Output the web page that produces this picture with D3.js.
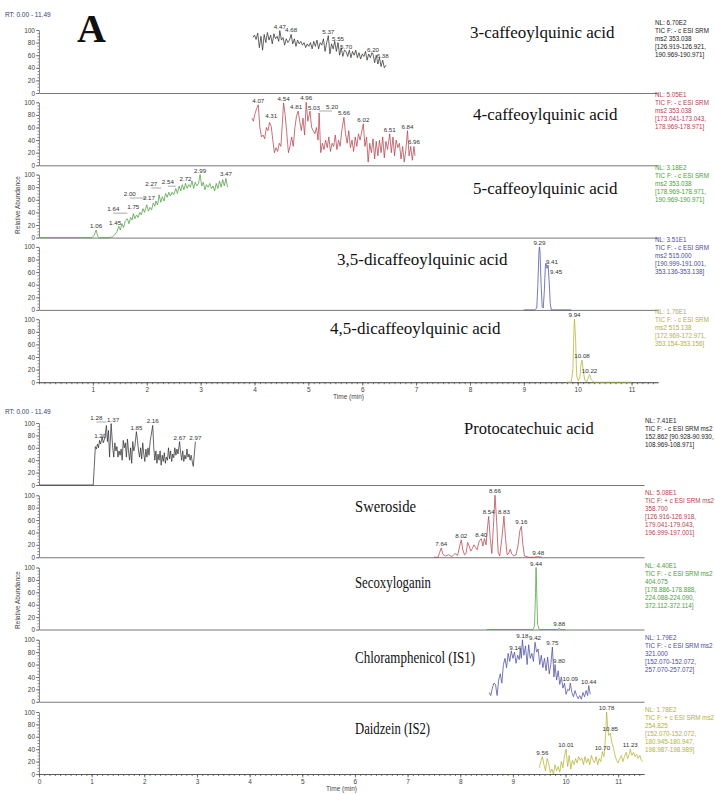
<!DOCTYPE html>
<html>
<head>
<meta charset="utf-8">
<script src="https://cdn.jsdelivr.net/npm/d3@7"></script>
<style>
  body { margin: 0; background: #fff; }
  svg { display: block; }
  text { font-family: "Liberation Sans", Arial, sans-serif; }
  text.name, text.panel-tag { font-family: "Liberation Serif", "Times New Roman", serif; fill: #111; }
</style>
</head>
<body>
<svg id="chart" width="715" height="794"></svg>
<script>
// ---- data: [time (min), relative abundance (%)] ----
var cqa3 = [[3.97,88],[4.00,92],[4.03,85],[4.06,95],[4.09,72],[4.12,90],[4.15,68],[4.18,93],[4.21,80],[4.24,96],[4.27,84],[4.30,92],[4.33,78],[4.36,94],[4.39,86],[4.42,90],[4.45,82],[4.47,99],[4.50,84],[4.53,88],[4.56,76],[4.59,86],[4.62,80],[4.65,84],[4.68,93],[4.71,78],[4.74,86],[4.77,74],[4.80,84],[4.83,78],[4.86,82],[4.89,76],[4.92,80],[4.95,72],[4.98,78],[5.01,74],[5.04,80],[5.07,70],[5.10,82],[5.13,74],[5.16,84],[5.19,70],[5.22,80],[5.25,76],[5.28,86],[5.31,66],[5.34,80],[5.37,91],[5.40,62],[5.43,78],[5.46,70],[5.49,82],[5.52,66],[5.55,80],[5.58,60],[5.61,72],[5.64,58],[5.67,68],[5.70,66],[5.73,58],[5.76,68],[5.79,56],[5.82,66],[5.85,60],[5.88,68],[5.91,56],[5.94,64],[5.97,54],[6.00,62],[6.03,58],[6.06,66],[6.09,52],[6.12,62],[6.15,56],[6.18,64],[6.20,62],[6.23,48],[6.26,60],[6.29,46],[6.32,56],[6.35,42],[6.38,52],[6.41,40],[6.44,44]];
var cqa4 = [[3.95,75],[3.98,70],[4.01,82],[4.04,90],[4.07,96],[4.10,60],[4.13,45],[4.16,48],[4.19,42],[4.22,60],[4.25,55],[4.28,68],[4.31,62],[4.34,40],[4.37,20],[4.40,28],[4.43,22],[4.46,35],[4.49,30],[4.52,70],[4.54,99],[4.57,80],[4.60,50],[4.63,20],[4.66,30],[4.69,45],[4.72,30],[4.75,60],[4.78,78],[4.81,86],[4.84,70],[4.87,55],[4.90,75],[4.93,48],[4.96,100],[4.99,70],[5.03,86],[5.06,60],[5.09,55],[5.12,50],[5.15,60],[5.18,40],[5.20,83],[5.23,20],[5.26,35],[5.29,25],[5.32,40],[5.35,28],[5.38,45],[5.41,22],[5.44,35],[5.47,30],[5.50,48],[5.53,25],[5.56,40],[5.59,30],[5.62,55],[5.66,76],[5.69,50],[5.72,35],[5.75,55],[5.78,28],[5.81,40],[5.84,22],[5.87,45],[5.90,30],[5.93,50],[5.96,40],[6.02,66],[6.05,30],[6.08,45],[6.11,5],[6.14,35],[6.17,20],[6.20,42],[6.23,10],[6.26,38],[6.29,15],[6.32,40],[6.35,20],[6.38,45],[6.41,12],[6.44,38],[6.47,25],[6.51,50],[6.54,20],[6.57,45],[6.60,15],[6.63,40],[6.66,28],[6.69,35],[6.72,10],[6.75,30],[6.78,5],[6.81,25],[6.84,55],[6.87,15],[6.90,30],[6.93,8],[6.96,30],[6.98,15]];
var cqa5 = [[0,0],[0.98,0],[1.02,3],[1.06,12],[1.09,2],[1.12,0],[1.30,0],[1.36,1],[1.40,4],[1.45,10],[1.48,18],[1.51,12],[1.54,22],[1.57,16],[1.60,26],[1.64,30],[1.67,22],[1.70,32],[1.73,28],[1.75,38],[1.78,30],[1.81,36],[1.84,32],[1.87,40],[1.90,36],[1.93,46],[1.96,40],[2.00,52],[2.03,42],[2.06,48],[2.09,44],[2.12,55],[2.15,50],[2.17,58],[2.20,52],[2.23,68],[2.26,56],[2.29,65],[2.32,58],[2.35,70],[2.38,64],[2.41,72],[2.44,66],[2.47,72],[2.50,68],[2.54,78],[2.57,70],[2.60,82],[2.63,74],[2.66,84],[2.69,76],[2.72,86],[2.75,78],[2.78,84],[2.81,80],[2.84,90],[2.87,78],[2.90,88],[2.93,82],[2.96,86],[2.99,100],[3.02,82],[3.05,88],[3.08,76],[3.11,84],[3.14,80],[3.17,86],[3.20,78],[3.23,82],[3.26,74],[3.29,86],[3.32,78],[3.35,90],[3.38,80],[3.41,92],[3.44,82],[3.47,94],[3.50,80]];
var dicqa35 = [[9.00,0],[9.20,0],[9.24,3],[9.26,40],[9.28,92],[9.29,100],[9.30,92],[9.32,40],[9.34,5],[9.36,3],[9.38,30],[9.40,70],[9.41,74],[9.43,66],[9.45,71],[9.47,45],[9.49,10],[9.51,0],[9.88,0]];
var dicqa45 = [[9.80,0],[9.88,0],[9.91,20],[9.93,85],[9.94,100],[9.96,70],[9.98,10],[10.01,2],[10.04,8],[10.06,28],[10.08,35],[10.10,20],[10.13,3],[10.17,1],[10.20,8],[10.22,12],[10.25,4],[10.30,0],[11.00,0]];

var proto = [[0,0],[1.03,0],[1.05,30],[1.07,62],[1.09,58],[1.11,66],[1.13,60],[1.15,72],[1.17,66],[1.20,78],[1.22,68],[1.25,76],[1.28,96],[1.30,70],[1.32,88],[1.34,45],[1.37,99],[1.40,60],[1.42,45],[1.44,68],[1.46,55],[1.48,62],[1.50,45],[1.52,55],[1.54,48],[1.56,58],[1.58,40],[1.60,72],[1.62,60],[1.64,68],[1.66,45],[1.68,74],[1.70,55],[1.72,40],[1.74,60],[1.76,35],[1.78,70],[1.80,55],[1.82,62],[1.85,86],[1.87,72],[1.89,55],[1.91,45],[1.93,60],[1.95,42],[1.97,68],[1.99,50],[2.01,38],[2.03,58],[2.05,45],[2.07,60],[2.09,48],[2.11,70],[2.13,80],[2.16,96],[2.18,60],[2.20,40],[2.22,55],[2.24,35],[2.26,50],[2.28,40],[2.30,55],[2.32,32],[2.34,48],[2.36,38],[2.38,52],[2.40,35],[2.42,45],[2.44,40],[2.46,60],[2.48,42],[2.50,55],[2.52,38],[2.54,50],[2.56,44],[2.58,60],[2.60,48],[2.62,58],[2.64,50],[2.67,70],[2.69,52],[2.71,40],[2.73,55],[2.75,38],[2.77,48],[2.79,42],[2.81,58],[2.83,45],[2.85,50],[2.87,40],[2.89,48],[2.91,38],[2.93,30],[2.95,50],[2.97,70]];
var swero = [[7.50,0],[7.58,0],[7.61,8],[7.64,15],[7.67,5],[7.72,2],[7.78,4],[7.84,1],[7.90,6],[7.95,3],[7.99,18],[8.02,28],[8.05,12],[8.08,4],[8.11,6],[8.14,24],[8.17,18],[8.20,10],[8.23,14],[8.26,20],[8.29,16],[8.32,12],[8.36,26],[8.40,30],[8.43,18],[8.46,30],[8.49,20],[8.52,50],[8.54,66],[8.57,30],[8.60,6],[8.63,50],[8.66,100],[8.69,60],[8.72,8],[8.75,2],[8.79,30],[8.83,66],[8.86,30],[8.89,4],[8.92,6],[8.95,13],[8.98,5],[9.02,2],[9.06,4],[9.10,20],[9.13,42],[9.16,50],[9.19,20],[9.22,2],[9.30,0],[9.40,0],[9.48,1],[9.55,0]];
var seco = [[8.50,0],[9.38,0],[9.41,5],[9.43,60],[9.44,100],[9.45,70],[9.47,8],[9.50,0],[9.85,0],[9.88,2],[9.91,0],[10.00,0]];
var chloram = [[8.55,15],[8.58,10],[8.61,22],[8.64,30],[8.67,28],[8.70,10],[8.73,35],[8.76,45],[8.79,30],[8.82,60],[8.85,70],[8.88,55],[8.91,78],[8.94,65],[8.97,82],[9.00,70],[9.03,80],[9.06,62],[9.09,75],[9.12,68],[9.14,85],[9.16,70],[9.18,100],[9.21,75],[9.24,90],[9.27,60],[9.30,92],[9.33,70],[9.36,78],[9.39,65],[9.42,96],[9.45,80],[9.48,85],[9.51,60],[9.54,75],[9.57,55],[9.60,70],[9.63,50],[9.66,72],[9.69,45],[9.72,60],[9.75,88],[9.78,40],[9.80,60],[9.83,35],[9.86,50],[9.89,28],[9.92,40],[9.95,22],[9.98,30],[10.01,12],[10.04,20],[10.07,18],[10.09,30],[10.12,15],[10.15,8],[10.18,18],[10.21,10],[10.24,5],[10.27,10],[10.30,4],[10.33,15],[10.36,8],[10.39,18],[10.42,10],[10.44,26],[10.47,12]];
var daidz = [[9.50,10],[9.53,20],[9.56,28],[9.59,15],[9.62,5],[9.65,25],[9.68,18],[9.71,2],[9.74,8],[9.77,0],[9.80,15],[9.83,5],[9.86,12],[9.89,3],[9.92,20],[9.95,10],[9.98,30],[10.01,40],[10.04,12],[10.07,30],[10.10,8],[10.13,22],[10.16,15],[10.19,25],[10.22,18],[10.25,28],[10.28,22],[10.31,26],[10.34,15],[10.37,28],[10.40,18],[10.43,25],[10.46,15],[10.49,30],[10.52,22],[10.55,18],[10.58,28],[10.61,15],[10.64,25],[10.67,20],[10.70,36],[10.73,28],[10.76,60],[10.78,100],[10.80,75],[10.82,62],[10.85,66],[10.88,50],[10.91,42],[10.94,30],[10.97,22],[11.00,18],[11.03,25],[11.06,30],[11.09,20],[11.12,28],[11.15,35],[11.18,25],[11.21,32],[11.23,40],[11.26,30],[11.29,35],[11.32,28],[11.35,32],[11.38,25],[11.41,30],[11.44,22],[11.47,20]];

// labelled peaks: [retention time, apex abundance]
var cqa3Peaks = [[4.47,99],[4.68,93],[5.37,91],[5.55,80],[5.70,66],[6.20,62],[6.38,52]];
var cqa4Peaks = [[4.07,96],[4.31,68],[4.54,99],[4.81,86],[4.96,100],[5.03,86],[5.20,83],[5.66,76],[6.02,66],[6.51,50],[6.84,55],[6.96,30]];
var cqa5Peaks = [[1.06,12],[1.45,20],[1.64,34],[1.75,42],[2.00,58],[2.17,60],[2.27,74],[2.54,80],[2.72,86],[2.99,100],[3.47,94]];
var dicqa35Peaks = [[9.29,100],[9.41,74],[9.45,64]];
var dicqa45Peaks = [[9.94,100],[10.08,35],[10.22,12]];
var protoPeaks = [[1.20,78],[1.28,100],[1.37,99],[1.85,86],[2.16,96],[2.67,70],[2.97,70]];
var sweroPeaks = [[7.64,15],[8.02,28],[8.40,30],[8.54,66],[8.66,100],[8.83,66],[9.16,50],[9.48,1]];
var secoPeaks = [[9.44,100],[9.88,2]];
var chloramPeaks = [[9.14,85],[9.18,100],[9.42,96],[9.75,88],[9.80,60],[10.09,30],[10.44,26]];
var daidzPeaks = [[9.56,28],[10.01,40],[10.70,36],[10.78,100],[10.85,66],[11.23,40]];

var topNames = ["3-caffeoylquinic acid", "4-caffeoylquinic acid", "5-caffeoylquinic acid", "3,5-dicaffeoylquinic acid", "4,5-dicaffeoylquinic acid"];
var bottomNames = ["Protocatechuic acid", "Sweroside", "Secoxyloganin", "Chloramphenicol (IS1)", "Daidzein (IS2)"];

var topInfo = [
  ["NL: 6.70E2", "TIC F: - c ESI SRM", "ms2 353.038", "[126.919-126.921,", "190.969-190.971]"],
  ["NL: 5.05E1", "TIC F: - c ESI SRM", "ms2 353.038", "[173.041-173.043,", "178.969-178.971]"],
  ["NL: 3.18E2", "TIC F: - c ESI SRM", "ms2 353.038", "[178.969-178.971,", "190.969-190.971]"],
  ["NL: 3.51E1", "TIC F: - c ESI SRM", "ms2 515.000", "[190.999-191.001,", "353.136-353.138]"],
  ["NL: 1.76E1", "TIC F: - c ESI SRM", "ms2 515.138", "[172.969-172.971,", "353.154-353.156]"]
];
var bottomInfo = [
  ["NL: 7.41E1", "TIC F: - c ESI SRM ms2", "152.862 [90.928-90.930,", "108.969-108.971]"],
  ["NL: 5.08E1", "TIC F: + c ESI SRM ms2", "358.700", "[126.916-126.918,", "179.041-179.043,", "196.999-197.001]"],
  ["NL: 4.40E1", "TIC F: - c ESI SRM ms2", "404.075", "[178.886-178.888,", "224.088-224.090,", "372.112-372.114]"],
  ["NL: 1.79E2", "TIC F: - c ESI SRM ms2", "321.000", "[152.070-152.072,", "257.070-257.072]"],
  ["NL: 1.78E2", "TIC F: + c ESI SRM ms2", "254.825", "[152.070-152.072,", "180.945-180.947,", "198.987-198.989]"]
];

var colors = ["#333333", "#b4434f", "#4d9e40", "#4c4ca2", "#b3b332"];
var rtRange = [0, 11.49];
var yTicks = [0, 20, 40, 60, 80, 100];

// ---- layout ----
// label nudges, keyed "panel:label" -> [dx, dy, leader line]
var topShift = {
  "1:4.81": [-2, 0], "1:5.03": [4, 1], "1:5.20": [13, -2, 1], "1:4.31": [0, -2],
  "2:1.64": [-14, -3, 1], "2:2.00": [-17, -3, 1], "2:2.17": [-7, 2], "2:2.27": [-10, -3, 1],
  "2:2.54": [-8, -1, 1], "2:1.45": [-2, 2],
  "3:9.41": [6, 3], "3:9.45": [8, 6]
};
var bottomShift = {
  "0:1.28": [-10, -1, 1], "0:1.20": [-2, 3], "0:1.37": [2, 0],
  "3:9.14": [-5, 3], "3:9.80": [4, 0]
};

// name placement: [left x, level (%), font size, squeezed width or 0]
var topGroup = {
  left: 39, right: 658, base0: 93, step: 72.3, h: 63, infoX: 655, infoDy: -68, xLabel0: false,
  rtY: 17, relY: 205,
  traces: [cqa3, cqa4, cqa5, dicqa35, dicqa45],
  peaks: [cqa3Peaks, cqa4Peaks, cqa5Peaks, dicqa35Peaks, dicqa45Peaks],
  shift: topShift,
  names: topNames, info: topInfo,
  namePos: [[470, 95, 17, 0], [473, 80, 17, 0], [473, 78, 17, 0], [337, 80, 17, 0], [330, 85, 17, 0]]
};
var bottomGroup = {
  left: 39, right: 644, base0: 485, step: 72.25, h: 62, infoX: 645, infoDy: -62, xLabel0: true,
  rtY: 414, relY: 600,
  traces: [proto, swero, seco, chloram, daidz],
  peaks: [protoPeaks, sweroPeaks, secoPeaks, chloramPeaks, daidzPeaks],
  shift: bottomShift,
  names: bottomNames, info: bottomInfo,
  namePos: [[464, 90, 16.5, 0], [355, 80, 16, 61], [355, 75, 16, 76], [355, 70, 16, 120], [355, 72, 16, 75]]
};

var svg = d3.select("#chart");
var fmt = d3.format(".2f");

function drawGroup(grp) {
  var g = svg.append("g");
  var x = d3.scaleLinear().domain(rtRange).range([grp.left, grp.right]);

  g.append("text").attr("x", 5).attr("y", grp.rtY)
    .attr("font-size", 6.5).attr("fill", "#2f3f7a").text("RT: 0.00 - 11.49");

  grp.traces.forEach(function(data, i) {
    var base = grp.base0 + i * grp.step;
    var y = d3.scaleLinear().domain([0, 100]).range([base, base - grp.h]);
    var last = i === grp.traces.length - 1;

    // y axis: minor then major ticks
    g.append("g").attr("transform", "translate(" + grp.left + ",0)")
      .call(d3.axisLeft(y).tickValues(d3.range(0, 101, 5)).tickSize(1.5).tickSizeOuter(0).tickFormat(""))
      .call(function(a) { a.selectAll("line,path").attr("stroke", "#555").attr("stroke-width", 0.7); });
    g.append("g").attr("transform", "translate(" + grp.left + ",0)")
      .call(d3.axisLeft(y).tickValues(yTicks).tickSize(3).tickPadding(1))
      .call(function(a) {
        a.select(".domain").remove();
        a.selectAll("line").attr("stroke", "#555").attr("stroke-width", 0.7);
        a.selectAll("text").attr("font-size", 6.5).attr("fill", "#444");
      });

    // x axis (baseline); ticks only on the last panel
    var xa = g.append("g").attr("transform", "translate(0," + base + ")");
    if (last) {
      xa.call(d3.axisBottom(x).tickValues(d3.range(0, 11.49, 0.1)).tickSize(2).tickSizeOuter(0).tickFormat(""));
      xa.append("g").call(d3.axisBottom(x)
        .tickValues(d3.range(grp.xLabel0 ? 0 : 1, 12)).tickSize(3.5).tickSizeOuter(0).tickPadding(1.5)
        .tickFormat(d3.format("d")));
      xa.selectAll("text").attr("font-size", 6.5).attr("fill", "#444");
      g.append("text").attr("x", (grp.left + grp.right) / 2).attr("y", base + 17)
        .attr("text-anchor", "middle").attr("font-size", 6.5).attr("fill", "#444").text("Time (min)");
    } else {
      xa.call(d3.axisBottom(x).tickValues([]).tickSizeOuter(0));
    }
    xa.selectAll("line,path").attr("stroke", "#555").attr("stroke-width", 0.8);

    // trace
    g.append("path").datum(data)
      .attr("fill", "none").attr("stroke", colors[i]).attr("stroke-width", 0.75)
      .attr("stroke-linejoin", "round")
      .attr("d", d3.line().x(function(d) { return x(d[0]); }).y(function(d) { return y(d[1]); }));

    // peak labels (with optional nudge and leader line)
    var sh = function(d) { return grp.shift[i + ":" + fmt(d[0])] || [0, 0]; };
    var lab = g.selectAll(null).data(grp.peaks[i]).enter().append("g");
    lab.filter(function(d) { return sh(d)[2]; }).append("line")
      .attr("x1", function(d) { return x(d[0]) + sh(d)[0]; })
      .attr("x2", function(d) { return x(d[0]); })
      .attr("y1", function(d) { return y(d[1]) + sh(d)[1]; })
      .attr("y2", function(d) { return y(d[1]) + sh(d)[1]; })
      .attr("stroke", "#555").attr("stroke-width", 0.5);
    lab.append("text")
      .attr("x", function(d) { return x(d[0]) + sh(d)[0]; })
      .attr("y", function(d) { return y(d[1]) - 2 + sh(d)[1]; })
      .attr("text-anchor", "middle").attr("font-size", 6.2).attr("fill", "#333")
      .text(function(d) { return fmt(d[0]); });

    // compound name
    var np = grp.namePos[i];
    var nm = g.append("text").attr("class", "name")
      .attr("x", np[0]).attr("y", y(np[1]) + np[2] * 0.3)
      .attr("font-size", np[2]).text(grp.names[i]);
    if (np[3]) nm.attr("textLength", np[3]).attr("lengthAdjust", "spacingAndGlyphs");

    // acquisition info at the right
    g.append("text").attr("x", grp.infoX).attr("y", base + grp.infoDy)
      .attr("font-size", 6.3).attr("fill", i === 0 ? "#222" : colors[i])
      .selectAll("tspan").data(grp.info[i]).enter().append("tspan")
      .attr("x", grp.infoX).attr("dy", function(d, j) { return j ? 8 : 0; })
      .text(function(d) { return d; });
  });

  g.append("text").attr("transform", "translate(20," + grp.relY + ") rotate(-90)")
    .attr("text-anchor", "middle").attr("font-size", 6.5).attr("fill", "#444")
    .text("Relative Abundance");
}

drawGroup(topGroup);
drawGroup(bottomGroup);

svg.append("text").attr("class", "panel-tag").attr("x", 77).attr("y", 42)
  .attr("font-weight", "bold").attr("font-size", 40).text("A");
</script>
</body>
</html>
